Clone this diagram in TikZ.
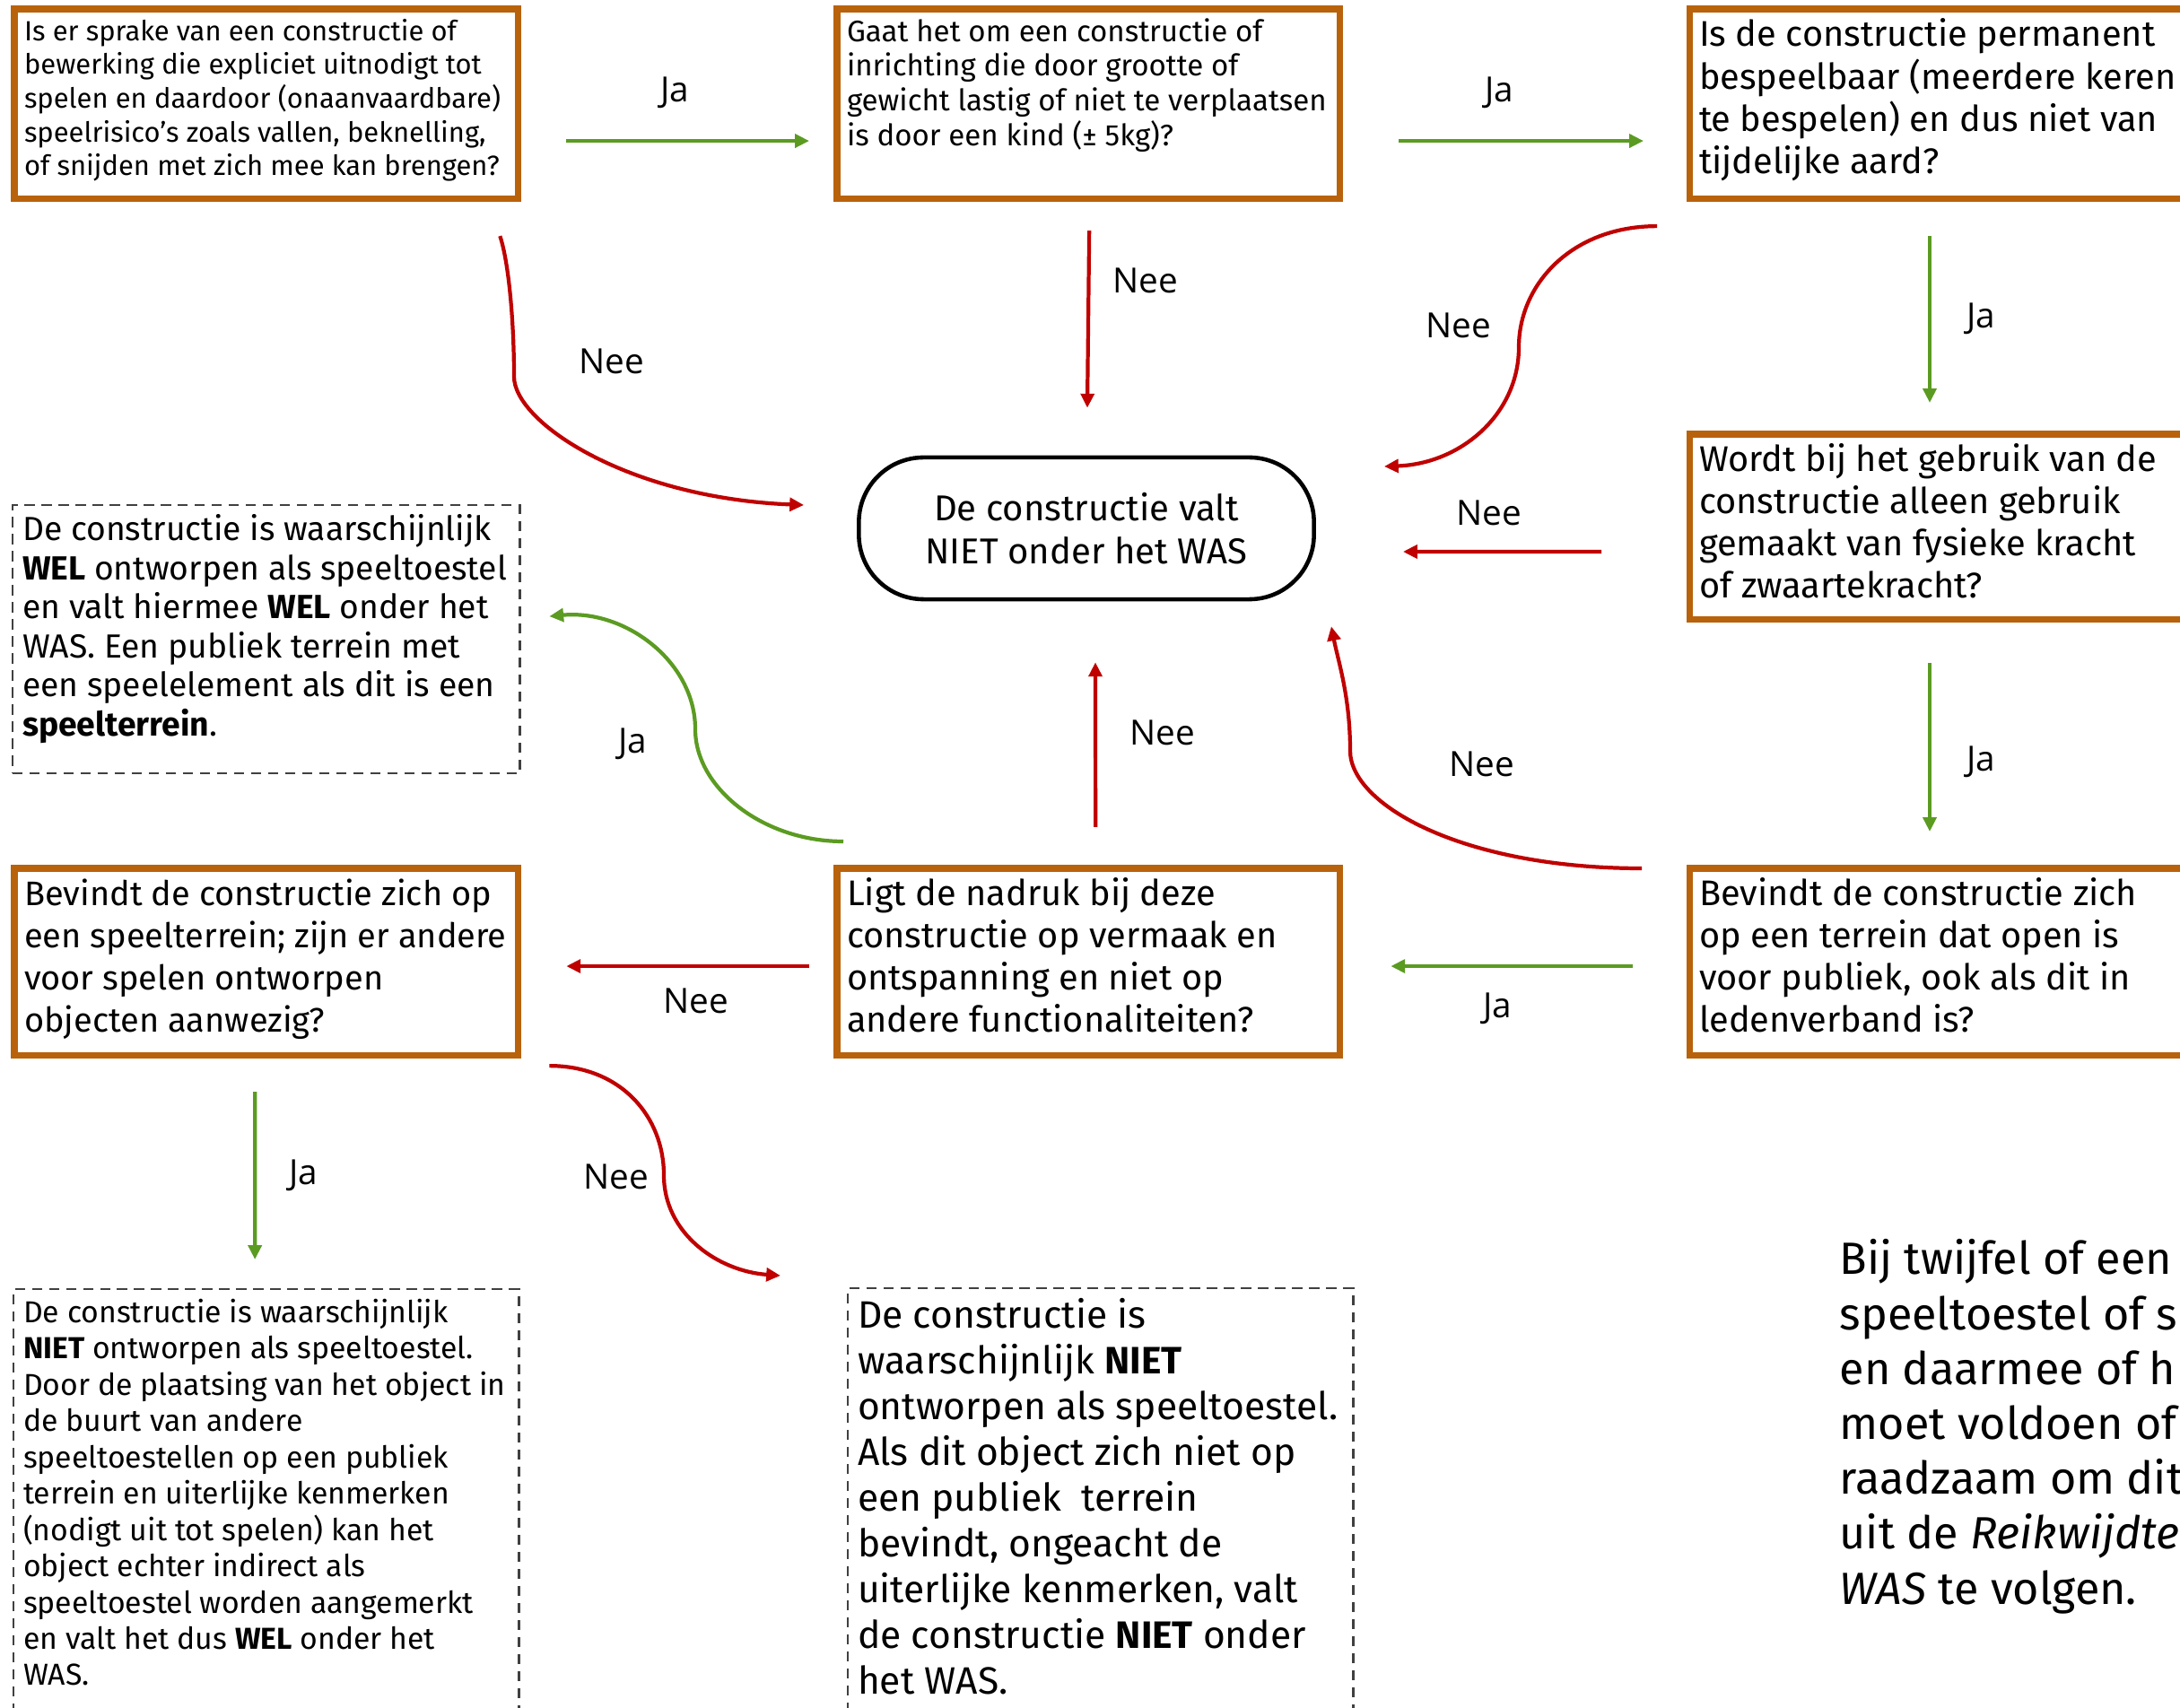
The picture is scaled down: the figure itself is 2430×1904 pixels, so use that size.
\documentclass[tikz,border=0pt]{standalone}
\usepackage{fontspec}
\setmainfont{Fira Sans}
\newfontfamily\labelfont{Open Sans}
\usetikzlibrary{arrows.meta}
\definecolor{neered}{HTML}{C00000}
\definecolor{jagreen}{HTML}{5B9B22}
\definecolor{boxorange}{HTML}{B9620C}
\definecolor{dashgray}{HTML}{404040}
\newcommand{\qtext}[3]{\parbox[t][#2][t]{#1}{\begin{tabular}[t]{@{}l@{}}#3\end{tabular}}}

\begin{document}
\begin{tikzpicture}[x=0.01cm, y=-0.01cm,
	question/.style={draw=boxorange, line width=2pt, anchor=north west, inner xsep=0.11cm, inner ysep=0.09cm, outer sep=0pt},
	outcome/.style={draw=dashgray, line width=0.7pt, dash pattern=on 3.2pt off 2.2pt, anchor=north west, inner xsep=0.11cm, inner ysep=0.09cm, outer sep=0pt},
	verdict/.style={draw=black, line width=1.3pt, rounded corners=0.72cm, minimum width=5.07cm, minimum height=1.58cm, align=center, font=\fontsize{11.4}{13.7}\selectfont},
	ja/.style={draw=jagreen, line width=1.2pt, -{Triangle[length=4.5pt,width=4.2pt]}},
	nee/.style={draw=neered, line width=1.2pt, -{Triangle[length=4.5pt,width=4.2pt]}},
	lbl/.style={font=\labelfont\fontsize{11}{12}\selectfont}]

	\path[use as bounding box, fill=white] (0,0) rectangle (2430,1904);

	% Vragen
	\node[question, font=\fontsize{8.8}{10.7}\selectfont] (A) at (16,10) {\qtext{5.39cm}{1.93cm}{Is er sprake van een constructie of\\ bewerking die expliciet uitnodigt tot\\ spelen en daardoor (onaanvaardbare)\\ speelrisico’s zoals vallen, beknelling,\\ of snijden met zich mee kan brengen?}};
	\node[question, font=\fontsize{9.4}{11}\selectfont] (B) at (933,10) {\qtext{5.38cm}{1.93cm}{Gaat het om een constructie of\\ inrichting die door grootte of\\ gewicht lastig of niet te verplaatsen\\ is door een kind (± 5kg)?}};
	\node[question, font=\fontsize{11.3}{13.3}\selectfont] (C) at (1883,10) {\qtext{5.78cm}{1.93cm}{Is de constructie permanent\\ bespeelbaar (meerdere keren\\ te bespelen) en dus niet van\\ tijdelijke aard?}};
	\node[question, font=\fontsize{11.3}{13.3}\selectfont] (D) at (1883,484) {\qtext{5.78cm}{1.88cm}{Wordt bij het gebruik van de\\ constructie alleen gebruik\\ gemaakt van fysieke kracht\\ of zwaartekracht?}};
	\node[question, font=\fontsize{11.3}{13.3}\selectfont] (E) at (1883,968) {\qtext{5.78cm}{1.90cm}{Bevindt de constructie zich\\ op een terrein dat open is\\ voor publiek, ook als dit in\\ ledenverband is?}};
	\node[question, font=\fontsize{11.3}{13.3}\selectfont] (F) at (933,968) {\qtext{5.38cm}{1.90cm}{Ligt de nadruk bij deze\\ constructie op vermaak en\\ ontspanning en niet op\\ andere functionaliteiten?}};
	\node[question, font=\fontsize{10.8}{13.3}\selectfont] (G) at (16,968) {\qtext{5.39cm}{1.90cm}{Bevindt de constructie zich op\\ een speelterrein; zijn er andere\\ voor spelen ontworpen\\ objecten aanwezig?}};

	% Uitkomsten
	\node[verdict] (K) at (1211,589) {De constructie valt\\NIET onder het WAS};
	\node[outcome, font=\fontsize{10.6}{12.4}\selectfont] (H) at (14,563) {\qtext{5.43cm}{2.81cm}{De constructie is waarschijnlijk\\ \textbf{WEL} ontworpen als speeltoestel\\ en valt hiermee \textbf{WEL} onder het\\ WAS. Een publiek terrein met\\ een speelelement als dit is een\\ \textbf{speelterrein}.}};
	\node[outcome, font=\fontsize{9.6}{11.5}\selectfont] (I) at (15,1437) {\qtext{5.41cm}{4.82cm}{De constructie is waarschijnlijk\\ \textbf{NIET} ontworpen als speeltoestel.\\ Door de plaatsing van het object in\\ de buurt van andere\\ speeltoestellen op een publiek\\ terrein en uiterlijke kenmerken\\ (nodigt uit tot spelen) kan het\\ object echter indirect als\\ speeltoestel worden aangemerkt\\ en valt het dus \textbf{WEL} onder het\\ WAS.}};
	\node[outcome, font=\fontsize{12.1}{14.5}\selectfont] (J) at (945,1436) {\qtext{5.41cm}{4.82cm}{De constructie is\\ waarschijnlijk \textbf{NIET}\\ ontworpen als speeltoestel.\\ Als dit object zich niet op\\ een publiek\ \ terrein\\ bevindt, ongeacht de\\ uiterlijke kenmerken, valt\\ de constructie \textbf{NIET} onder\\ het WAS.}};

	\node[anchor=north west, inner sep=0pt, align=left, font=\fontsize{14.3}{17.4}\selectfont] (note) at (2050,1381) {Bij twijfel of een\\ speeltoestel of s\\ en daarmee of h\\ moet voldoen of\\ raadzaam om dit\\ uit de \textit{Reikwijdte}\\ \textit{WAS} te volgen.};

	% Ja
	\draw[ja] ([shift={(54,41.5)}]A.east) -- ([shift={(-31,41.5)}]B.west);
	\draw[ja] ([shift={(66,41.5)}]B.east) -- ([shift={(-51,41.5)}]C.west);
	\draw[ja] ([shift={(268,42)}]C.south west) -- ([shift={(268,-35)}]D.north west);
	\draw[ja] ([shift={(268,49)}]D.south west) -- ([shift={(268,-41)}]E.north west);
	\draw[ja] ([shift={(-63,5)}]E.west) -- ([shift={(57,5)}]F.east);
	\draw[ja] ([shift={(-12.5,41)}]G.south) -- ([shift={(-12.5,-33)}]I.north);
	\draw[ja] ([shift={(7,-30)}]F.north west) .. controls +(-90,0) and +(0,65) .. (775,813) .. controls +(0,-75) and +(85,-8) .. ([shift={(33,-25.5)}]H.east);

	% Nee
	\draw[nee] ([shift={(1,36)}]B.south) -- ([shift={(1,-53)}]K.north);
	\draw[nee] ([shift={(-98,28)}]D.west) -- ([shift={(97,26)}]K.east);
	\draw[nee] ([shift={(8,-46)}]F.north) -- ([shift={(10,68)}]K.south);
	\draw[nee] ([shift={(-31,5)}]F.west) -- ([shift={(54,5)}]G.east);
	\draw[nee] ([shift={(-20,42)}]A.south east) .. controls +(10,30) and +(0,-60) .. (573,420) .. controls +(0,50) and +(-198,-8) .. ([shift={(-59,-26)}]K.west);
	\draw[nee] ([shift={(-36,31)}]C.south west) .. controls +(-95,0) and +(0,-70) .. (1693,387) .. controls +(0,75) and +(85,-3) .. ([shift={(76,-69)}]K.east);
	\draw[nee] ([shift={(-53,0)}]E.north west) .. controls +(-200,0) and +(0,60) .. (1505,837) .. controls +(0,-60) and +(8,40) .. ([shift={(17,28)}]K.south east);
	\draw[nee] ([shift={(35,12)}]G.south east) .. controls +(80,0) and +(0,-65) .. (740,1310) .. controls +(0,65) and +(-70,-5) .. ([shift={(-75,-14)}]J.north west);

	% Labels
	\node[lbl] (jaAB) at (752,103) {Ja};
	\node[lbl] (jaBC) at (1671,103) {Ja};
	\node[lbl] (jaCD) at (2208,355) {Ja};
	\node[lbl] (jaDE) at (2208,849) {Ja};
	\node[lbl] (jaEF) at (1669,1124) {Ja};
	\node[lbl] (jaFH) at (705,829) {Ja};
	\node[lbl] (jaGI) at (338,1310) {Ja};
	\node[lbl] (neeAK) at (682,403) {Nee};
	\node[lbl] (neeBK) at (1277,313) {Nee};
	\node[lbl] (neeCK) at (1626,363) {Nee};
	\node[lbl] (neeDK) at (1660,572) {Nee};
	\node[lbl] (neeEK) at (1652,852) {Nee};
	\node[lbl] (neeFK) at (1296,817) {Nee};
	\node[lbl] (neeFG) at (776,1116) {Nee};
	\node[lbl] (neeGJ) at (687,1312) {Nee};
\end{tikzpicture}
\end{document}
